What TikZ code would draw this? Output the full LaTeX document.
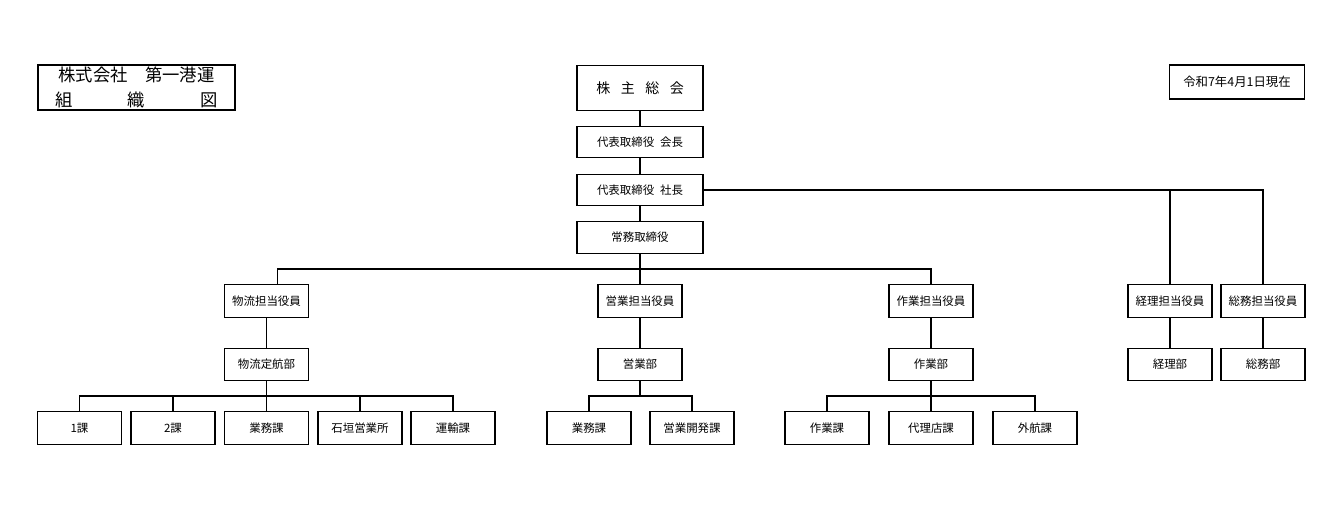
\documentclass[tikz,border=0pt]{standalone}
\usepackage{fontspec}
\setmainfont{Noto Sans CJK JP}
\begin{document}
\begin{tikzpicture}[x=0.75pt, y=-0.75pt,
        unit/.style={rectangle, draw, line width=0.9pt, minimum width=63pt, minimum height=24.5pt, inner sep=0pt, font=\fontsize{8.6}{10}\selectfont},
        exec/.style={unit, minimum width=94.5pt, minimum height=23.5pt},
        link/.style={line width=0.9pt}
    ]
        \useasboundingbox (0,0) rectangle (1320,516);

        % Titolo e data
        \node[rectangle, draw, line width=0.9pt, minimum width=147.75pt, minimum height=33.75pt, inner sep=0pt, align=center, font=\fontsize{13}{18.5}\selectfont] (title) at (136.5,87.5) {株式会社　第一港運\\\makebox[122pt][s]{組\hfill 織\hfill 図}};
        \node[unit, minimum width=101.25pt, minimum height=25.5pt, font=\fontsize{9.3}{11}\selectfont] (date) at (1237,82) {令和7年4月1日現在};

        % Vertice
        \node[exec, minimum height=33.75pt, font=\fontsize{10.5}{12}\selectfont] (soukai) at (640,88) {株\hspace{0.75em}主\hspace{0.75em}総\hspace{0.75em}会};
        \node[exec] (kaicho) at (640,142) {代表取締役\hspace{0.5em}会長};
        \node[exec] (shacho) at (640,190) {代表取締役\hspace{0.5em}社長};
        \node[exec] (jomu) at (640,237.5) {常務取締役};

        % Responsabili
        \node[unit] (butsuryuyaku) at (266.5,301) {物流担当役員};
        \node[unit] (eigyoyaku) at (640,301) {営業担当役員};
        \node[unit] (sagyoyaku) at (931,301) {作業担当役員};
        \node[unit] (keiriyaku) at (1170,301) {経理担当役員};
        \node[unit] (somuyaku) at (1263,301) {総務担当役員};

        % Dipartimenti
        \node[unit] (butsuryubu) at (266.5,364.5) {物流定航部};
        \node[unit] (eigyobu) at (640,364.5) {営業部};
        \node[unit] (sagyobu) at (931,364.5) {作業部};
        \node[unit] (keiribu) at (1170,364.5) {経理部};
        \node[unit] (somubu) at (1263,364.5) {総務部};

        % Sezioni
        \node[unit] (ka1) at (79.5,428) {1課};
        \node[unit] (ka2) at (173,428) {2課};
        \node[unit] (gyomu) at (266.5,428) {業務課};
        \node[unit] (ishigaki) at (360,428) {石垣営業所};
        \node[unit] (unyu) at (453,428) {運輸課};
        \node[unit] (eigyogyomu) at (589,428) {業務課};
        \node[unit] (kaihatsu) at (692,428) {営業開発課};
        \node[unit] (sagyoka) at (827,428) {作業課};
        \node[unit] (dairiten) at (931,428) {代理店課};
        \node[unit] (gaiko) at (1035,428) {外航課};

        % Connessioni
        \coordinate (bus1) at (640,269);
        \coordinate (bus2) at (266.5,396);
        \coordinate (bus3) at (640,396);
        \coordinate (bus4) at (931,396);
        \draw[link] (soukai) -- (kaicho);
        \draw[link] (kaicho) -- (shacho);
        \draw[link] (shacho) -- (jomu);
        \draw[link] (shacho.east) -| (somuyaku.north);
        \draw[link] (keiriyaku.north |- shacho.east) -- (keiriyaku.north);
        \draw[link] (jomu) -- (eigyoyaku);
        \draw[link] ([xshift=8pt]butsuryuyaku.north) |- (bus1) -| (sagyoyaku.north);
        \draw[link] (butsuryuyaku) -- (butsuryubu);
        \draw[link] (eigyoyaku) -- (eigyobu);
        \draw[link] (sagyoyaku) -- (sagyobu);
        \draw[link] (keiriyaku) -- (keiribu);
        \draw[link] (somuyaku) -- (somubu);
        \foreach \n in {ka1,ka2,gyomu,ishigaki,unyu}
            \draw[link] (butsuryubu.south) -- (bus2) -| (\n.north);
        \foreach \n in {eigyogyomu,kaihatsu}
            \draw[link] (eigyobu.south) -- (bus3) -| (\n.north);
        \foreach \n in {sagyoka,dairiten,gaiko}
            \draw[link] (sagyobu.south) -- (bus4) -| (\n.north);
    \end{tikzpicture}
\end{document}
